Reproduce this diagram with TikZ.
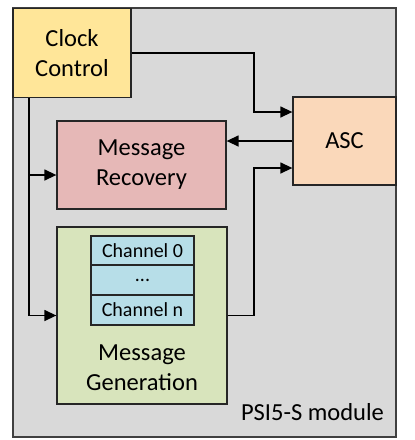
\documentclass[tikz,border=0pt]{standalone}
\usepackage{fontspec}
\setmainfont{Carlito}
\usetikzlibrary{arrows.meta}
\definecolor{modgray}{HTML}{D9D9D9}
\definecolor{clockfill}{HTML}{FFE699}
\definecolor{recfill}{HTML}{E6B8B7}
\definecolor{ascfill}{HTML}{FAD8BA}
\definecolor{genfill}{HTML}{D8E4BC}
\definecolor{chfill}{HTML}{B7DEE8}
\begin{document}
\begin{tikzpicture}[x=1pt,y=-1pt,
  box/.style={draw=black!85,line width=1.3pt,rectangle,inner sep=0pt,align=center,
    font=\fontsize{24.5}{30}\selectfont},
  chbox/.style={draw=black!85,line width=1.3pt,rectangle,inner sep=0pt,fill=chfill,
    minimum width=103pt,font=\fontsize{20}{22}\selectfont},
  conn/.style={line width=1.4pt,black},
  arr/.style={conn,-{Triangle[length=12pt,width=11pt]}}]
\useasboundingbox (0,0) rectangle (415,440);
\node[box,draw=black!75,fill=modgray,minimum width=383pt,minimum height=429pt] (mod) at (204.5,222.5) {};
\node[box,fill=clockfill,minimum width=118pt,minimum height=89pt] (clock) at (72,53) {Clock\\Control};
\node[box,fill=recfill,minimum width=169pt,minimum height=88pt] (rec) at (141.5,165) {Message\\Recovery};
\node[box,fill=ascfill,minimum width=103pt,minimum height=88pt] (asc) at (344.5,141) {ASC};
\node[box,fill=genfill,minimum width=170pt,minimum height=177pt] (gen) at (142,315.5) {};
\node[chbox,minimum height=29pt] (ch0) at (142.5,250.5) {Channel 0};
\node[chbox,minimum height=30pt] (chd) at (142.5,280) {...};
\node[chbox,minimum height=30pt] (chn) at (142.5,310) {Channel n};
\node[align=center,inner sep=0pt,font=\fontsize{24.5}{30}\selectfont] (gentxt) at (142,368) {Message\\Generation};
\node[inner sep=0pt,font=\fontsize{24.5}{30}\selectfont] (modtxt) at (312.5,412) {PSI5-S module};
\coordinate (bx) at (254,0);
\coordinate (lx) at (29,0);
\coordinate (ly1) at (0,112);
\coordinate (ly2) at (0,168);
\coordinate (ry) at (0,175);
\draw[arr] (clock.east) -- (clock.east -| bx) -- (bx |- ly1) -- (asc.west |- ly1);
\draw[arr] (asc.west) -- (asc.west -| rec.east);
\draw[arr] (gen.east) -- (gen.east -| bx) -- (bx |- ly2) -- (asc.west |- ly2);
\draw[arr] (clock.south -| lx) |- (gen.west);
\draw[arr] (lx |- ry) -- (rec.west |- ry);
\end{tikzpicture}
\end{document}
